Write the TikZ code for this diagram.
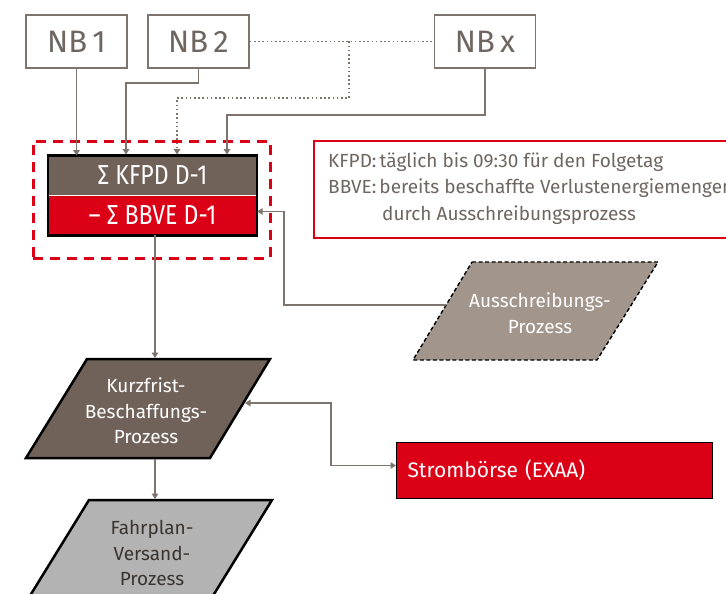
\documentclass[tikz,border=0pt]{standalone}
\usepackage{fontspec}
\setmainfont{Fira Sans}
\newfontfamily\condfont{Fira Sans}[FakeStretch=0.84]
\usetikzlibrary{arrows.meta}
\definecolor{lgray}{HTML}{7D746E}
\definecolor{tgray}{HTML}{6F6661}
\definecolor{brn}{HTML}{716259}
\definecolor{rd}{HTML}{DC0017}
\definecolor{ausc}{HTML}{A2958C}
\definecolor{fgray}{HTML}{B3B3B3}
\definecolor{dtext}{HTML}{3A3431}
\tikzset{
  nbbox/.style={draw=lgray, line width=1.6pt, minimum width=101pt, minimum height=53pt, inner sep=0pt, text=tgray, font=\fontsize{31}{31}\selectfont},
  arr/.style={draw=lgray, line width=1.7pt, -{Triangle[length=5.5pt,width=6.5pt]}},
  arrtwo/.style={draw=lgray, line width=1.7pt, {Triangle[length=5.5pt,width=6.5pt]}-{Triangle[length=5.5pt,width=6.5pt]}},
  dotline/.style={draw=lgray, line width=1.7pt, dash pattern=on 1.6pt off 2.6pt},
  sumtxt/.style={minimum width=209pt, minimum height=39.5pt, inner sep=0pt, text=white, font=\condfont\fontsize{27.5}{27.5}\selectfont},
  infotxt/.style={text=tgray, inner sep=0pt, font=\fontsize{19}{19}\selectfont},
  proctxt/.style={align=center, inner sep=0pt, font=\fontsize{19}{25.5}\selectfont},
  para/.style={line width=2.5pt, draw=black, line join=miter},
}
\begin{document}
\begin{tikzpicture}[x=1pt,y=-1pt]
\useasboundingbox[fill=white] (0,0) rectangle (726,594);

% NB boxes
\node[nbbox] (nb1) at (76.5,41.5) {NB\,1};
\node[nbbox] (nb2) at (198.5,41.5) {NB\,2};
\node[nbbox] (nbx) at (485,41.5) {NB\,x};
\draw[dotline] (nb2.east) -- (nbx.west);
\coordinate (dj) at (349,41.5);

% group frame
\node[draw=rd, line width=3pt, dash pattern=on 10pt off 7pt, minimum width=237pt, minimum height=117pt, inner sep=0pt] (grp) at (151.5,199.5) {};

% sum box
\node[sumtxt, fill=brn] (sumtop) at (152.5,175.5) {Σ KFPD D-1};
\node[sumtxt, fill=rd] (sumbot) at (152.5,215.5) {– Σ BBVE D-1};
\draw[line width=2.4pt] (sumtop.north west) rectangle (sumbot.south east);

% arrows into sum box
\draw[arr] (nb1.south) -- (nb1.south |- sumtop.north);
\draw[arr] (nb2.south) -- ++(0,14) -| ([xshift=-26.5pt,yshift=1pt]sumtop.north);
\draw[dotline, -{Triangle[length=5.5pt,width=6.5pt]}] (dj) -- ++(0,56.5) -| ([xshift=24.5pt,yshift=1pt]sumtop.north);
\draw[arr] (nbx.south) -- ++(0,46) -| ([xshift=74.5pt,yshift=1pt]sumtop.north);

% info box
\node[draw=rd, line width=2pt, minimum width=427pt, minimum height=97pt, anchor=north west, inner sep=0pt] (info) at (313,140) {};
\node[infotxt, anchor=base west] (l1) at (328,167) {KFPD:\,täglich bis 09:30 für den Folgetag};
\node[infotxt, anchor=base west] (l2) at (328,193.5) {BBVE:\,bereits beschaffte Verlustenergiemengen};
\node[infotxt, anchor=base west] (l3) at (382,220) {durch Ausschreibungsprozess};

% Ausschreibungs-Prozess
\draw[fill=ausc, draw=black, line width=1.4pt, dash pattern=on 4pt off 2.5pt] (472,262) -- (658,262) -- (597,360) -- (413,360) -- cycle;
\node[proctxt, text=white] (aus) at (540,313) {Ausschreibungs-\\Prozess};
\coordinate (ausin) at (446,305);
\draw[arr] (ausin) -- (284,305) |- ([yshift=4pt]sumbot.east);

% Kurzfrist
\draw[para, fill=brn] (87,359) -- (270,359) -- (210,458) -- (26,458) -- cycle;
\node[proctxt, text=white] (kurz) at (146,411) {Kurzfrist-\\Beschaffungs-\\Prozess};
\coordinate (kurzN) at (155,358);
\coordinate (kurzS) at (155,459);
\coordinate (kurzE) at (245,403);
\draw[arr] (sumbot.south -| kurzN) -- (kurzN);

% Fahrplan
\draw[para, fill=fgray] (89,500) -- (272,500) -- (211,599) -- (28,599) -- cycle;
\node[proctxt, text=dtext] (fahr) at (152,553) {Fahrplan-\\Versand-\\Prozess};
\coordinate (fahrN) at (155,499);
\draw[arr] (kurzS) -- (fahrN);

% Strombörse
\node[draw=black, line width=1pt, fill=rd, minimum width=316pt, minimum height=56pt, anchor=north west, inner xsep=11pt, text width=294pt, align=left, text=white, font=\fontsize{21}{21}\selectfont] (strom) at (396,442) {Strombörse (EXAA)};
\draw[arrtwo] (kurzE) -- (331,403) |- ([yshift=5pt]strom.west);
\end{tikzpicture}
\end{document}
